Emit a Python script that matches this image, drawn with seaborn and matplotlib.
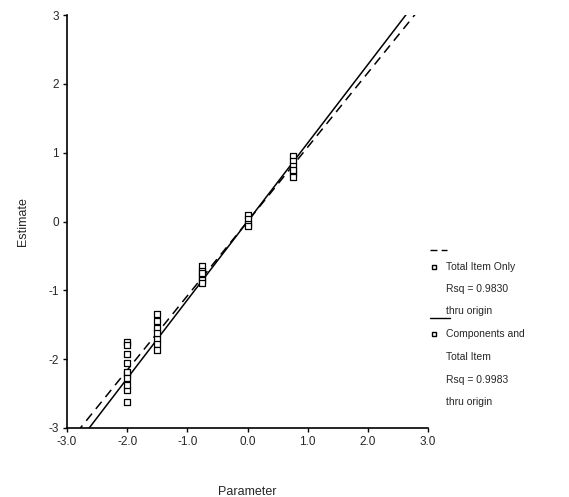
import matplotlib
matplotlib.use("Agg")
import matplotlib.pyplot as plt
import seaborn as sns
import pandas as pd
import numpy as np
from matplotlib.lines import Line2D

# Data
x_total = [-2.0, -2.0, -2.0, -2.0, -2.0, -1.5, -1.5, -1.5, -1.5, -0.75, -0.75, -0.75, 0.0, 0.0, 0.75, 0.75, 0.75]
y_total = [-1.75, -1.92, -2.05, -2.22, -2.45, -1.35, -1.45, -1.55, -1.70, -0.65, -0.72, -0.80, 0.10, 0.03, 0.95, 0.88, 0.80]
x_comp = [-2.0, -2.0, -2.0, -2.0, -2.0, -1.5, -1.5, -1.5, -0.75, -0.75, -0.75, 0.0, 0.0, 0.75, 0.75, 0.75]
y_comp = [-1.80, -2.18, -2.28, -2.38, -2.62, -1.62, -1.78, -1.86, -0.85, -0.90, -0.75, -0.03, -0.07, 0.70, 0.65, 0.75]
slope_total = 1.08
slope_comp = 1.14
x_ticks = [-3.0, -2.0, -1.0, 0.0, 1.0, 2.0, 3.0]
y_ticks = [-3, -2, -1, 0, 1, 2, 3]

sns.set_style("white")
plt.rcParams['font.family'] = ['Liberation Sans', 'DejaVu Sans']

fig = plt.figure(figsize=(5.69, 4.97), dpi=100)
ax = fig.add_axes([67/569, 1-428/497, (428-67)/569, (428-15)/497])

pts = pd.DataFrame({
    "Parameter": x_total + x_comp,
    "Estimate": y_total + y_comp,
})
sns.scatterplot(data=pts, x="Parameter", y="Estimate", ax=ax, marker="s",
                facecolor="white", edgecolor="black", linewidth=0.9, s=16, zorder=3)

xs = np.linspace(-3, 3, 50)
lines_df = pd.DataFrame({"x": xs, "yt": slope_total * xs, "yc": slope_comp * xs})
sns.lineplot(data=lines_df, x="x", y="yt", ax=ax, color="black", linewidth=1.1,
             linestyle=(0, (6, 4)), zorder=2)
sns.lineplot(data=lines_df, x="x", y="yc", ax=ax, color="black", linewidth=1.1, zorder=2)

ax.set_xlim(-3, 3)
ax.set_ylim(-3, 3)
ax.set_xticks(x_ticks)
ax.set_xticklabels([f"{v:.1f}" for v in x_ticks])
ax.set_yticks(y_ticks)
ax.set_yticklabels([str(v) for v in y_ticks])
sns.despine(ax=ax)
for sp in ["left", "bottom"]:
    ax.spines[sp].set_color("black")
    ax.spines[sp].set_linewidth(1.2)
ax.tick_params(axis="both", which="both", direction="out", length=3, width=1,
               color="black", labelsize=8.5, pad=3, bottom=True, left=True)
ax.set_xlabel("Parameter", fontsize=9, labelpad=27)
ax.set_ylabel("Estimate", fontsize=9, labelpad=14)

# Legend drawn at the right
def fx(p):
    return p / 569
def fy(p):
    return 1 - p / 497

fig.add_artist(Line2D([fx(430), fx(447)], [fy(250), fy(250)], color="black",
                      linewidth=1.0, linestyle=(0, (5, 3))))
fig.add_artist(Line2D([fx(434)], [fy(267)], marker="s", markersize=3.5,
                      markerfacecolor="white", markeredgecolor="black", linestyle="none"))
fs = 7.5
fig.text(fx(446), fy(267), "Total Item Only", fontsize=fs, va="center")
fig.text(fx(446), fy(289), "Rsq = 0.9830", fontsize=fs, va="center")
fig.text(fx(446), fy(311), "thru origin", fontsize=fs, va="center")

fig.add_artist(Line2D([fx(430), fx(450)], [fy(318), fy(318)], color="black", linewidth=1.0))
fig.add_artist(Line2D([fx(434)], [fy(334)], marker="s", markersize=3.5,
                      markerfacecolor="white", markeredgecolor="black", linestyle="none"))
fig.text(fx(446), fy(334), "Components and", fontsize=fs, va="center")
fig.text(fx(446), fy(357), "Total Item", fontsize=fs, va="center")
fig.text(fx(446), fy(380), "Rsq = 0.9983", fontsize=fs, va="center")
fig.text(fx(446), fy(402), "thru origin", fontsize=fs, va="center")

fig.savefig("out.png", dpi=100)
